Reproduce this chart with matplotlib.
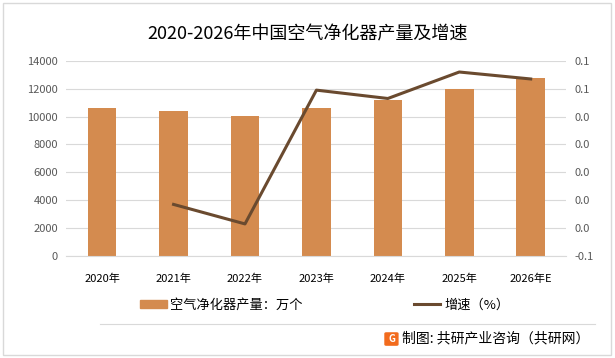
import numpy as np
import matplotlib.pyplot as plt
from matplotlib.patches import Rectangle, FancyBboxPatch
from matplotlib.lines import Line2D

plt.rcParams['font.family'] = ['Noto Sans CJK SC', 'DejaVu Sans']

# data
years = ['2020年', '2021年', '2022年', '2023年', '2024年', '2025年', '2026年E']
output = [10650, 10400, 10020, 10600, 11180, 11960, 12750]
growth = [None, -0.023, -0.037, 0.059, 0.053, 0.072, 0.067]
right_ticks = [-0.06, -0.04, -0.02, 0.0, 0.02, 0.04, 0.06, 0.08]
right_labels = ['-0.1', '0.0', '0.0', '0.0', '0.0', '0.0', '0.1', '0.1']

bar_color = '#D48B4F'
line_color = '#6A4A2F'
tick_color = '#595959'

fig = plt.figure(figsize=(6.15, 3.58), dpi=100)
ax = fig.add_axes([0.108, 0.285, 0.813, 0.545])
x = np.arange(len(years))

ax.bar(x, output, width=0.4, color=bar_color, zorder=2)
ax.set_ylim(0, 14000)
ax.set_yticks(range(0, 14001, 2000))
ax.set_xlim(-0.5, len(years) - 0.5)
ax.set_xticks(x)
ax.set_xticklabels(years)
ax.grid(axis='y', color='#D9D9D9', linewidth=0.8, zorder=0)
for s in ax.spines.values():
    s.set_visible(False)
ax.spines['bottom'].set_visible(True)
ax.spines['bottom'].set_color('#D9D9D9')
ax.tick_params(axis='both', length=0, labelsize=8, colors=tick_color, pad=6)
ax.tick_params(axis='x', labelcolor='black', pad=13)

ax2 = ax.twinx()
gx = [i for i, g in zip(x, growth) if g is not None]
gy = [g for g in growth if g is not None]
ax2.plot(gx, gy, color=line_color, linewidth=2.2, zorder=3)
ax2.set_ylim(-0.06, 0.08)
ax2.set_yticks(right_ticks)
ax2.set_yticklabels(right_labels)
for s in ax2.spines.values():
    s.set_visible(False)
ax2.tick_params(axis='y', length=0, labelsize=8, colors=tick_color, pad=6)

fig.text(0.5, 0.905, '2020-2026年中国空气净化器产量及增速', ha='center', va='center',
         fontsize=13, color='black')

# legend
handles = [Rectangle((0, 0), 1, 1, color=bar_color),
           Line2D([0], [0], color=line_color, linewidth=2.2)]
fig.legend(handles, ['空气净化器产量：万个', '增速（%）'], loc='center',
           bbox_to_anchor=(0.528, 0.148), ncol=2, frameon=False, fontsize=9.5,
           columnspacing=8.4, handlelength=2.0, handleheight=0.5, handletextpad=0.3)

# separator and source
fig.add_artist(Line2D([0.163, 0.967], [0.095, 0.095], color='#D9D9D9', linewidth=0.8))
fig.add_artist(FancyBboxPatch((0.628, 0.038), 0.017, 0.03,
                              boxstyle='round,pad=0.002', color='#F26B1D'))
fig.text(0.6365, 0.054, 'G', ha='center', va='center', fontsize=7,
         color='white', fontweight='bold')
fig.text(0.654, 0.054, '制图: 共研产业咨询（共研网）', ha='left', va='center',
         fontsize=10, color='black')

# outer border
fig.add_artist(Rectangle((0.005, 0.008), 0.988, 0.984, fill=False,
                         edgecolor='#D9D9D9', linewidth=1))

fig.savefig('out.png', dpi=100)
